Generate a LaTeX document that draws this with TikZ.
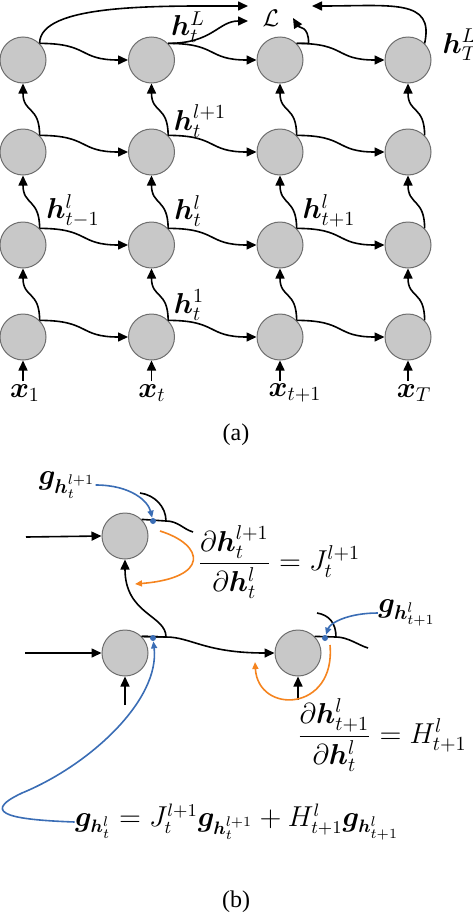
\documentclass[tikz,border=0pt]{standalone}
\usepackage{amsmath,bm}
\usepackage{fontspec}
\setmainfont{Liberation Serif}
\usetikzlibrary{arrows.meta}
\definecolor{cfill}{HTML}{C8C8C8}
\definecolor{cline}{HTML}{6E6E6E}
\definecolor{bl}{HTML}{3A6DB5}
\definecolor{org}{HTML}{F5841F}
\tikzset{
  neuron/.style={circle, draw=cline, fill=cfill, minimum size=23pt, inner sep=0pt, line width=0.5pt},
  wire/.style={line width=0.8pt, black},
  conn/.style={wire, -{Triangle[length=5pt,width=4.5pt]}},
  lbl/.style={inner sep=0pt, font=\fontsize{14}{16}\selectfont},
  captext/.style={inner sep=0pt, font=\fontsize{12}{14}\selectfont},
  barr/.style={line width=0.8pt, bl, -{Triangle[length=3.5pt,width=3pt]}},
  oarr/.style={line width=0.8pt, org, -{Triangle[length=3.5pt,width=3pt]}},
  bdot/.style={circle, fill=bl, inner sep=0pt, minimum size=3pt}
}
\begin{document}
\begin{tikzpicture}[x=0.5pt,y=-0.5pt]
\useasboundingbox (0,0) rectangle (472,916);
% ---------- (a) ----------
\foreach \c/\x in {1/23,2/151.5,3/280,4/408}{
  \foreach \r/\y in {1/60,2/152,3/245,4/337}{
    \node[neuron] (a\c\r) at (\x,\y) {};
  }
  \coordinate (i\c) at (\x,381);
  \draw[conn] (i\c) -- (a\c4.south);
}
\foreach \r in {1,2,3,4}{
  \foreach \c/\n in {1/2,2/3,3/4}{
    \draw[conn] (a\c\r.45) .. controls +(50,0) and +(-50,0) .. (a\n\r.west);
  }
}
\foreach \c in {1,2,3,4}{
  \foreach \r/\p in {2/1,3/2,4/3}{
    \draw[conn] (a\c\r.45) .. controls +(0,-30) and +(0,30) .. (a\c\p.south);
  }
}
\node[lbl, font=\fontsize{13}{15}\selectfont] (L) at (271,18) {$\mathcal{L}$};
\coordinate (Lin1) at (248,6);
\coordinate (Lin2) at (248,21);
\coordinate (Lin3) at (293,18);
\coordinate (Lin4) at (312,6);
\draw[conn] (a11.45) .. controls +(0,-40) and +(-90,0) .. (Lin1);
\draw[conn] (a21.45) .. controls +(45,0) and +(-30,0) .. (Lin2);
\draw[conn] (a31.45) -- ++(12,0) .. controls +(0,-18) and +(6,10) .. (Lin3);
\draw[conn] (a41.45) .. controls +(10,-45) and +(80,0) .. (Lin4);

\node[lbl] (hL) at (188,27) {$\bm{h}_t^L$};
\node[lbl] (hTL) at (460,45) {$\bm{h}_T^L$};
\node[lbl] (hl1) at (200,121) {$\bm{h}_t^{l+1}$};
\node[lbl] (hm) at (73,211) {$\bm{h}_{t-1}^l$};
\node[lbl] (ht) at (188,211) {$\bm{h}_t^l$};
\node[lbl] (hp) at (329,211) {$\bm{h}_{t+1}^l$};
\node[lbl] (h1) at (189,305) {$\bm{h}_t^1$};
\node[lbl] (x1) at (25,393) {$\bm{x}_1$};
\node[lbl] (xt) at (152,393) {$\bm{x}_t$};
\node[lbl] (xp) at (295,393) {$\bm{x}_{t+1}$};
\node[lbl] (xT) at (414,393) {$\bm{x}_T$};
\node[captext] (capa) at (236,435) {(a)};

% ---------- (b) ----------
\node[neuron] (UL) at (125,536) {};
\node[neuron] (LL) at (125,653) {};
\node[neuron] (LR) at (298,653) {};
\coordinate (iUL) at (26,537);
\coordinate (iLL) at (25,653);
\coordinate (uLL) at (125,705);
\coordinate (uLR) at (298,700);
\draw[conn] (iUL) -- (UL.west);
\draw[conn] (iLL) -- (LL.west);
\draw[conn] (uLL) -- (LL.south);
\draw[conn] (uLR) -- (LR.south);

\coordinate (bUL) at (166,521);
\coordinate (bLL) at (166,637);
\coordinate (bLR) at (336,637);
\coordinate (sUL1) at (193,532);
\coordinate (sUL2) at (140,493);
\coordinate (sLR1) at (368,648);
\coordinate (sLR2) at (317,613);
\draw[wire] (UL.45) -- (bUL) .. controls +(12,0) and +(-10,-3) .. (sUL1);
\draw[wire] (bUL) .. controls +(0,-14) and +(15,2) .. (sUL2);
\draw[wire] (LR.45) -- (bLR) .. controls +(12,0) and +(-10,-3) .. (sLR1);
\draw[wire] (bLR) .. controls +(0,-14) and +(12,2) .. (sLR2);
\draw[conn] (LL.45) -- (bLL) .. controls +(0,-22) and +(0,55) .. (UL.south);
\draw[conn] (LL.45) -- (bLL) .. controls +(25,0) and +(-70,0) .. (LR.west);

\node[bdot] (d1) at (153,521) {};
\node[bdot] (d2) at (153,638) {};
\node[bdot] (d3) at (325,638) {};

\node[lbl] (g1) at (67,485) {$\bm{g}_{\bm{h}_t^{l+1}}$};
\node[lbl] (g2) at (407,613) {$\bm{g}_{\bm{h}_{t+1}^l}$};
\node[lbl] (f1) at (279,562) {$\dfrac{\partial \bm{h}_t^{l+1}}{\partial \bm{h}_t^l} = J_t^{l+1}$};
\node[lbl] (f2) at (382,735) {$\dfrac{\partial \bm{h}_{t+1}^l}{\partial \bm{h}_t^l} = H_{t+1}^l$};
\node[lbl, font=\fontsize{13.5}{16}\selectfont] (g3) at (237,822) {$\bm{g}_{\bm{h}_t^l} = J_t^{l+1}\bm{g}_{\bm{h}_t^{l+1}} + H_{t+1}^l\bm{g}_{\bm{h}_{t+1}^l}$};

\draw[barr] (g1.east) .. controls +(35,0) and +(-5,-20) .. (d1);
\draw[barr] (g2.west) .. controls +(-30,0) and +(5,-15) .. (d3);
\draw[barr] (g3.west) .. controls (20,820) and (-25,815) .. (22,793) .. controls (90,765) and (160,700) .. (d2);

\coordinate (o1s) at (160,531);
\coordinate (o1e) at (135,584);
\coordinate (o2s) at (330,645);
\coordinate (o2e) at (255,662);
\draw[oarr] (o1s) .. controls (205,545) and (210,578) .. (o1e);
\draw[oarr] (o2s) .. controls (336,712) and (258,715) .. (o2e);

\node[captext] (capb) at (236,902) {(b)};
\end{tikzpicture}
\end{document}
